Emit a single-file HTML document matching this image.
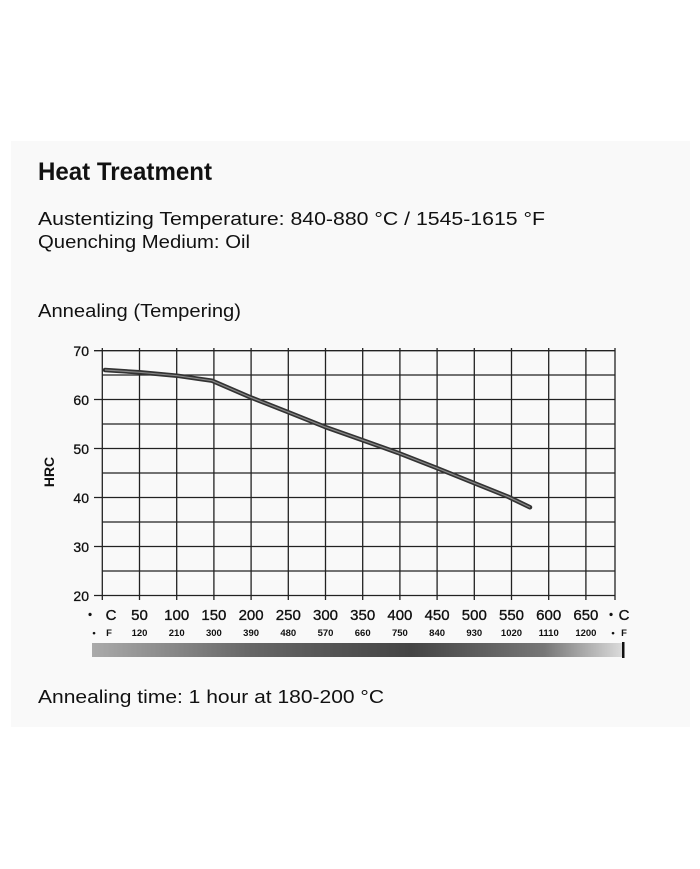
<!DOCTYPE html>
<html><head><meta charset="utf-8"><style>
html,body{margin:0;padding:0;background:#fff;}
svg{display:block;}
</style></head><body>
<svg width="700" height="869" viewBox="0 0 700 869" xmlns="http://www.w3.org/2000/svg" font-family="'Liberation Sans Narrow','Liberation Sans',sans-serif">
<defs>
<linearGradient id="g" x1="0" x2="1" y1="0" y2="0">
<stop offset="0" stop-color="#aaa"/>
<stop offset="0.3" stop-color="#666"/>
<stop offset="0.6" stop-color="#444"/>
<stop offset="0.85" stop-color="#777"/>
<stop offset="1" stop-color="#ddd"/>
</linearGradient>
</defs>
<rect x="11" y="141" width="679" height="586" fill="#f9f9f9"/>
<text x="38" y="180" font-size="25" font-weight="bold" fill="#111" textLength="174" lengthAdjust="spacingAndGlyphs">Heat Treatment</text>
<text x="38" y="225" font-size="18" fill="#111" textLength="507" lengthAdjust="spacingAndGlyphs">Austentizing Temperature: 840-880 °C / 1545-1615 °F</text>
<text x="38" y="248" font-size="18" fill="#111" textLength="212" lengthAdjust="spacingAndGlyphs">Quenching Medium: Oil</text>
<text x="38" y="317" font-size="18" fill="#111" textLength="203" lengthAdjust="spacingAndGlyphs">Annealing (Tempering)</text>
<text x="38" y="703" font-size="18" fill="#111" textLength="346" lengthAdjust="spacingAndGlyphs">Annealing time: 1 hour at 180-200 °C</text>

<g stroke="#222" stroke-width="1.3" fill="none">
<line x1="94" y1="350.7" x2="615" y2="350.7"/>
<line x1="102" y1="375" x2="615" y2="375"/>
<line x1="94" y1="399.5" x2="615" y2="399.5"/>
<line x1="102" y1="424" x2="615" y2="424"/>
<line x1="94" y1="448.5" x2="615" y2="448.5"/>
<line x1="102" y1="473" x2="615" y2="473"/>
<line x1="94" y1="497.5" x2="615" y2="497.5"/>
<line x1="102" y1="522" x2="615" y2="522"/>
<line x1="94" y1="546.5" x2="615" y2="546.5"/>
<line x1="102" y1="571" x2="615" y2="571"/>
<line x1="94" y1="595.5" x2="615" y2="595.5"/>
<line x1="102.3" y1="348" x2="102.3" y2="600"/>
<line x1="139.5" y1="348" x2="139.5" y2="600"/>
<line x1="176.7" y1="348" x2="176.7" y2="600"/>
<line x1="213.9" y1="348" x2="213.9" y2="600"/>
<line x1="251.1" y1="348" x2="251.1" y2="600"/>
<line x1="288.3" y1="348" x2="288.3" y2="600"/>
<line x1="325.5" y1="348" x2="325.5" y2="600"/>
<line x1="362.7" y1="348" x2="362.7" y2="600"/>
<line x1="399.9" y1="348" x2="399.9" y2="600"/>
<line x1="437.1" y1="348" x2="437.1" y2="600"/>
<line x1="474.3" y1="348" x2="474.3" y2="600"/>
<line x1="511.5" y1="348" x2="511.5" y2="600"/>
<line x1="548.7" y1="348" x2="548.7" y2="600"/>
<line x1="585.9" y1="348" x2="585.9" y2="600"/>
<line x1="615" y1="348" x2="615" y2="600"/>
</g>
<polyline fill="none" stroke="#333" stroke-width="4.5" stroke-linejoin="round" stroke-linecap="round"
points="105,370 139.5,372.3 177,375.7 212,380.7 249,396.7 287,411.7 324.5,426.7 362,440 397.6,452.7 435,467.3 470.7,481.7 508,496.7 530,507.3"/>
<polyline fill="none" stroke="#888" stroke-width="1.2"
points="105,370 139.5,372.3 177,375.7 212,380.7 249,396.7 287,411.7 324.5,426.7 362,440 397.6,452.7 435,467.3 470.7,481.7 508,496.7 530,507.3"/>

<g font-family="'Liberation Sans',sans-serif" font-size="14" fill="#111" text-anchor="end" stroke="#111" stroke-width="0.3">
<text x="89" y="356">70</text>
<text x="89" y="405">60</text>
<text x="89" y="454">50</text>
<text x="89" y="503">40</text>
<text x="89" y="552">30</text>
<text x="89" y="601">20</text>
</g>
<text transform="translate(54,472) rotate(-90)" font-family="'Liberation Sans',sans-serif" font-size="14" font-weight="bold" text-anchor="middle" fill="#111">HRC</text>

<g font-family="'Liberation Sans',sans-serif" font-size="15" fill="#111" text-anchor="middle" stroke="#111" stroke-width="0.35">
<text x="90" y="618" font-size="11">•</text><text x="111" y="620">C</text>
<text x="139.5" y="620">50</text>
<text x="176.7" y="620">100</text>
<text x="213.9" y="620">150</text>
<text x="251.1" y="620">200</text>
<text x="288.3" y="620">250</text>
<text x="325.5" y="620">300</text>
<text x="362.7" y="620">350</text>
<text x="399.9" y="620">400</text>
<text x="437.1" y="620">450</text>
<text x="474.3" y="620">500</text>
<text x="511.5" y="620">550</text>
<text x="548.7" y="620">600</text>
<text x="585.9" y="620">650</text>
<text x="611" y="618" font-size="11">•</text><text x="624" y="620">C</text>
</g>
<g font-family="'Liberation Sans',sans-serif" font-size="9.5" font-weight="bold" fill="#111" text-anchor="middle">
<text x="94" y="636">•</text><text x="109" y="636">F</text>
<text x="139.5" y="636">120</text>
<text x="176.7" y="636">210</text>
<text x="213.9" y="636">300</text>
<text x="251.1" y="636">390</text>
<text x="288.3" y="636">480</text>
<text x="325.5" y="636">570</text>
<text x="362.7" y="636">660</text>
<text x="399.9" y="636">750</text>
<text x="437.1" y="636">840</text>
<text x="474.3" y="636">930</text>
<text x="511.5" y="636">1020</text>
<text x="548.7" y="636">1110</text>
<text x="585.9" y="636">1200</text>
<text x="613" y="636">•</text><text x="624" y="636">F</text>
</g>
<rect x="92" y="643" width="532" height="14" fill="url(#g)"/>
<rect x="622" y="642" width="2.5" height="16" fill="#111"/>
</svg>
</body></html>
